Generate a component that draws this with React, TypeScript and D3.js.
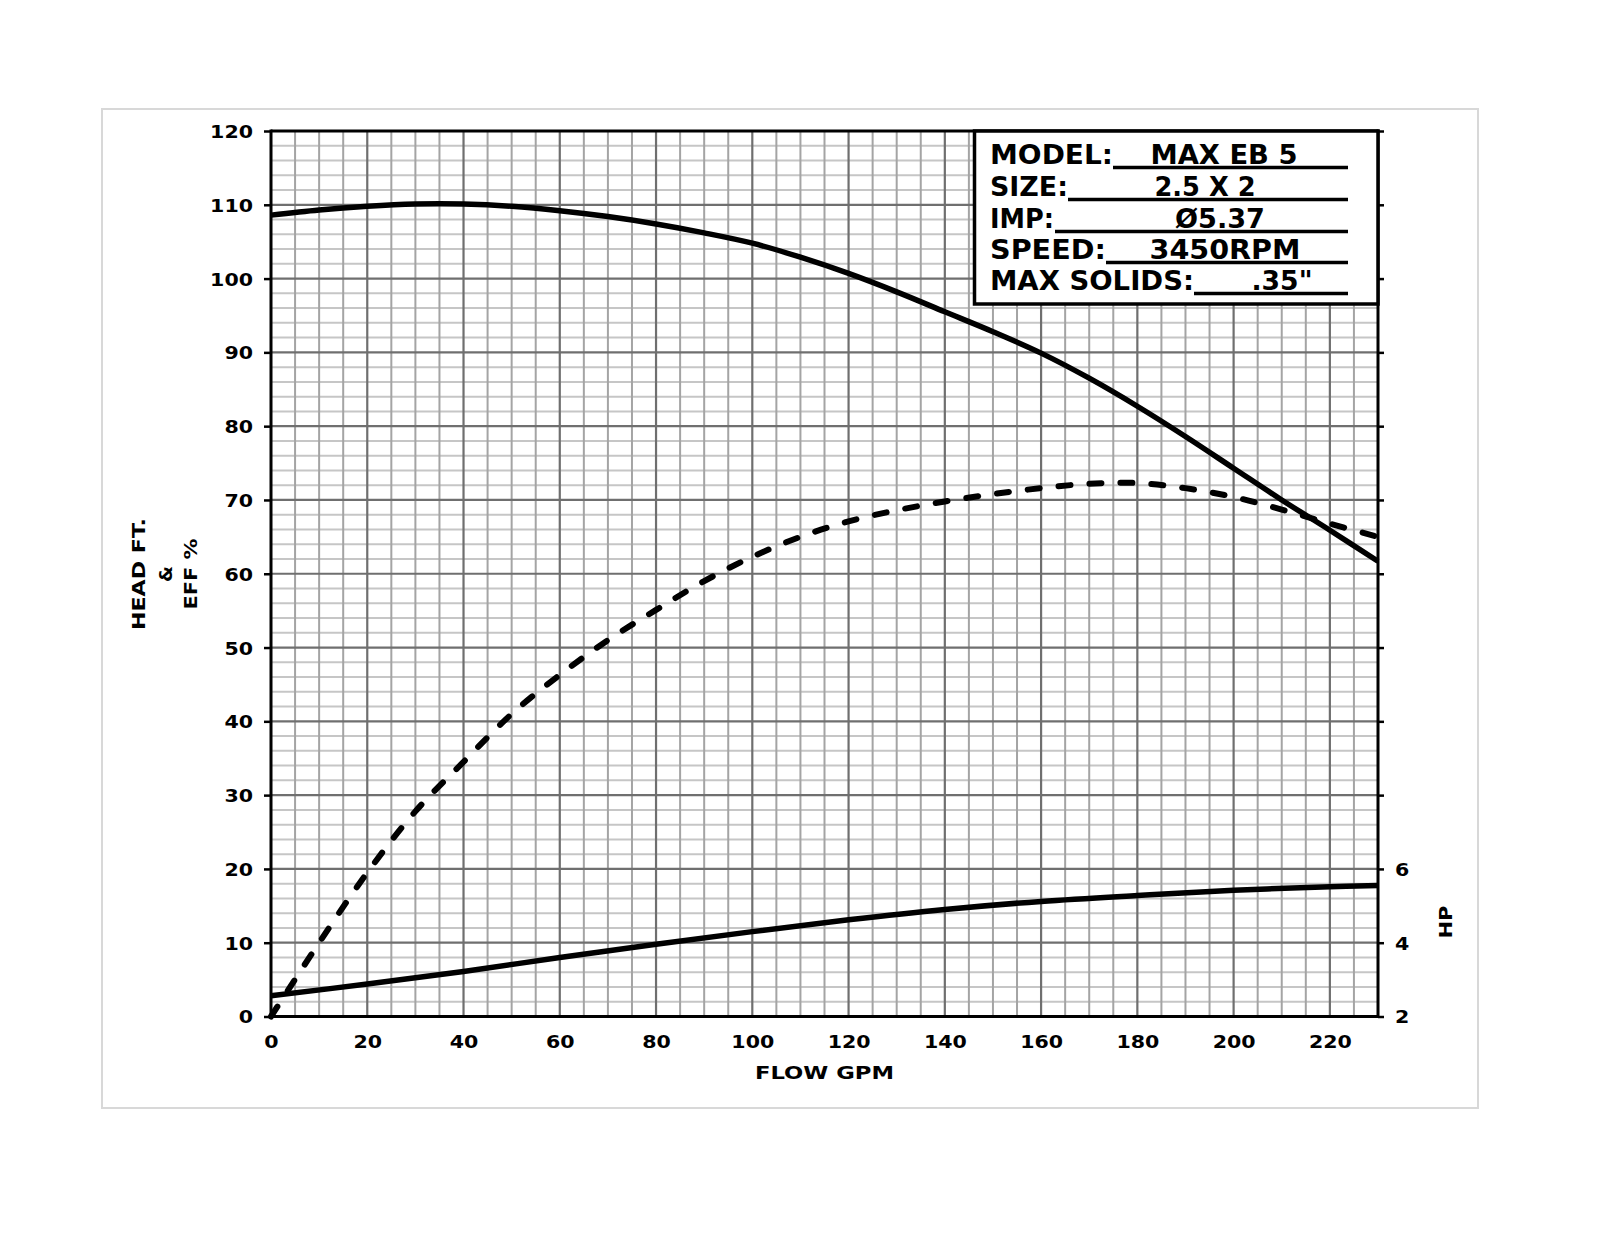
import { useEffect, useRef } from "react";
import * as d3 from "d3";

// flow points (GPM) shared by the head and efficiency curves
const flowGpm = [0, 10, 20, 30, 40, 50, 60, 70, 80, 90, 100, 110, 120, 130, 140, 150, 160, 170, 180, 190, 200, 210, 220, 230];
const headFt = [108.6, 109.3, 109.8, 110.1, 110.1, 109.8, 109.2, 108.4, 107.4, 106.2, 104.8, 102.9, 100.7, 98.2, 95.5, 92.8, 89.9, 86.5, 82.7, 78.6, 74.3, 70.0, 65.9, 61.7];
const effPct = [0, 10, 19.5, 27.8, 34.5, 41, 46.3, 51, 55.1, 59, 62.3, 65, 67.1, 68.6, 69.8, 70.8, 71.6, 72.2, 72.3, 71.6, 70.4, 68.7, 66.8, 65];

// horsepower curve, read against the right axis
const hpFlow = [0, 20, 40, 60, 80, 100, 120, 140, 160, 180, 200, 220, 230];
const hpValues = [2.56, 2.88, 3.22, 3.6, 3.96, 4.3, 4.62, 4.9, 5.12, 5.28, 5.42, 5.52, 5.55];

const xTicks = [0, 20, 40, 60, 80, 100, 120, 140, 160, 180, 200, 220];
const yTicks = [0, 10, 20, 30, 40, 50, 60, 70, 80, 90, 100, 110, 120];
const hpTicks = [2, 4, 6, 8, 10, 12, 14, 16, 18, 20, 22, 24, 26];
const hpLabelled = [2, 4, 6];

const infoLabels = ["MODEL:", "SIZE:", "IMP:", "SPEED:", "MAX SOLIDS:"];
const infoValues = ["MAX EB 5", "2.5 X 2", "\u00D85.37", "3450RPM", ".35\""];

const FONT = "'DejaVu Sans', sans-serif";

const App = () => {
  const svgRef = useRef<SVGSVGElement | null>(null);

  useEffect(() => {
    const svg = d3.select(svgRef.current);
    svg.selectAll("*").remove();

    const left = 271;
    const right = 1378;
    const top = 131;
    const bottom = 1016.5;

    const x = d3.scaleLinear().domain([0, 230]).range([left, right]);
    const y = d3.scaleLinear().domain([0, 120]).range([bottom, top]);
    const yHp = d3.scaleLinear().domain([2, 26]).range([bottom, top]);

    // outer page frame
    svg
      .append("rect")
      .attr("x", 102)
      .attr("y", 109)
      .attr("width", 1376)
      .attr("height", 999)
      .attr("fill", "none")
      .attr("stroke", "#d8d8d8")
      .attr("stroke-width", 2);

    // ---- GRID ----
    const grid = svg.append("g");
    const minorH = d3.range(0, 121, 2).filter((v) => v % 10 !== 0);
    const minorV = d3.range(0, 231, 5).filter((v) => v % 20 !== 0);
    const majorH = d3.range(10, 120, 10);
    const majorV = d3.range(20, 230, 20);

    grid
      .selectAll(".minor-h")
      .data(minorH)
      .enter()
      .append("line")
      .attr("x1", left)
      .attr("x2", right)
      .attr("y1", (d) => y(d))
      .attr("y2", (d) => y(d))
      .attr("stroke", "#c6c6c6")
      .attr("stroke-width", 2);

    grid
      .selectAll(".minor-v")
      .data(minorV)
      .enter()
      .append("line")
      .attr("x1", (d) => x(d))
      .attr("x2", (d) => x(d))
      .attr("y1", top)
      .attr("y2", bottom)
      .attr("stroke", "#a4a4a4")
      .attr("stroke-width", 2);

    grid
      .selectAll(".major-h")
      .data(majorH)
      .enter()
      .append("line")
      .attr("x1", left)
      .attr("x2", right)
      .attr("y1", (d) => y(d))
      .attr("y2", (d) => y(d))
      .attr("stroke", "#6f6f6f")
      .attr("stroke-width", 2.2);

    grid
      .selectAll(".major-v")
      .data(majorV)
      .enter()
      .append("line")
      .attr("x1", (d) => x(d))
      .attr("x2", (d) => x(d))
      .attr("y1", top)
      .attr("y2", bottom)
      .attr("stroke", "#6f6f6f")
      .attr("stroke-width", 2.2);

    // ---- AXES ----
    const charW = 14.3;
    const styleAxis = (g: d3.Selection<SVGGElement, unknown, null, undefined>) => {
      g.select(".domain").remove();
      g.selectAll(".tick line").attr("stroke", "#000").attr("stroke-width", 2.5);
      g.selectAll<SVGTextElement, number>(".tick text")
        .attr("fill", "#000")
        .style("font-family", FONT)
        .style("font-weight", "bold")
        .style("font-size", "18px")
        .attr("textLength", function () {
          return (this.textContent || "").length * charW;
        })
        .attr("lengthAdjust", "spacingAndGlyphs");
    };

    svg
      .append("g")
      .attr("transform", `translate(${left},0)`)
      .call(d3.axisLeft(y).tickValues(yTicks).tickSize(7).tickPadding(11))
      .call(styleAxis)
      .selectAll(".tick text")
      .attr("dy", "0.36em");

    svg
      .append("g")
      .attr("transform", `translate(${right},0)`)
      .call(
        d3
          .axisRight(yHp)
          .tickValues(hpTicks)
          .tickSize(6)
          .tickPadding(11)
          .tickFormat((d) => (hpLabelled.includes(d as number) ? String(d) : ""))
      )
      .call(styleAxis)
      .selectAll(".tick text")
      .attr("dy", "0.36em");

    const xAxis = svg
      .append("g")
      .attr("transform", `translate(0,${bottom})`)
      .call(d3.axisBottom(x).tickValues(xTicks).tickSize(0).tickPadding(19))
      .call(styleAxis);
    xAxis.selectAll(".tick text").attr("dy", "0.71em");

    // axis frame lines
    const frame = svg.append("g").attr("stroke", "#000").attr("stroke-width", 3);
    frame.append("line").attr("x1", left).attr("x2", left).attr("y1", top - 1.5).attr("y2", bottom + 1.5);
    frame.append("line").attr("x1", right).attr("x2", right).attr("y1", top - 1.5).attr("y2", bottom + 1.5);
    frame.append("line").attr("x1", left).attr("x2", right).attr("y1", top).attr("y2", top);
    frame.append("line").attr("x1", left).attr("x2", right).attr("y1", bottom).attr("y2", bottom);

    // ---- CURVES ----
    const line = d3
      .line<[number, number]>()
      .x((d) => x(d[0]))
      .y((d) => y(d[1]))
      .curve(d3.curveCatmullRom.alpha(0.5));
    const hpLine = d3
      .line<[number, number]>()
      .x((d) => x(d[0]))
      .y((d) => yHp(d[1]))
      .curve(d3.curveCatmullRom.alpha(0.5));

    svg
      .append("path")
      .attr("d", line(flowGpm.map((f, i) => [f, headFt[i]] as [number, number])))
      .attr("fill", "none")
      .attr("stroke", "#000")
      .attr("stroke-width", 5.5);

    svg
      .append("path")
      .attr("d", line(flowGpm.map((f, i) => [f, effPct[i]] as [number, number])))
      .attr("fill", "none")
      .attr("stroke", "#000")
      .attr("stroke-width", 6)
      .attr("stroke-linecap", "round")
      .attr("stroke-dasharray", "12 19");

    svg
      .append("path")
      .attr("d", hpLine(hpFlow.map((f, i) => [f, hpValues[i]] as [number, number])))
      .attr("fill", "none")
      .attr("stroke", "#000")
      .attr("stroke-width", 5.5);

    // ---- INFO BOX ----
    const box = svg.append("g");
    box
      .append("rect")
      .attr("x", 974.5)
      .attr("y", top)
      .attr("width", right - 974.5)
      .attr("height", 304 - top)
      .attr("fill", "#fff")
      .attr("stroke", "#000")
      .attr("stroke-width", 3.5);

    const baselines = [164, 196, 228, 259, 290];
    const labelWidths = [123, 78, 64, 116, 204];
    const valueCenters = [1224, 1205, 1220, 1225, 1282];
    const valueWidths = [147, 101, 90, 151, 61];
    const ruleStart = [1113, 1068, 1055, 1106, 1194];

    infoLabels.forEach((lab, i) => {
      box
        .append("text")
        .attr("x", 990)
        .attr("y", baselines[i])
        .attr("textLength", labelWidths[i])
        .attr("lengthAdjust", "spacingAndGlyphs")
        .style("font-family", FONT)
        .style("font-weight", "bold")
        .style("font-size", "26px")
        .text(lab);
      box
        .append("text")
        .attr("x", valueCenters[i])
        .attr("y", baselines[i])
        .attr("text-anchor", "middle")
        .attr("textLength", valueWidths[i])
        .attr("lengthAdjust", "spacingAndGlyphs")
        .style("font-family", FONT)
        .style("font-weight", "bold")
        .style("font-size", "26px")
        .text(infoValues[i]);
      box
        .append("line")
        .attr("x1", ruleStart[i])
        .attr("x2", 1348)
        .attr("y1", baselines[i] + 3.5)
        .attr("y2", baselines[i] + 3.5)
        .attr("stroke", "#000")
        .attr("stroke-width", 3.5);
    });

    // ---- AXIS TITLES ----
    const titleStyle = (t: d3.Selection<SVGTextElement, unknown, null, undefined>) =>
      t
        .style("font-family", FONT)
        .style("font-weight", "bold")
        .style("font-size", "18px")
        .attr("text-anchor", "middle")
        .attr("lengthAdjust", "spacingAndGlyphs");

    svg
      .append("text")
      .attr("x", (left + right) / 2)
      .attr("y", 1079)
      .attr("textLength", 139)
      .call(titleStyle)
      .text("FLOW GPM");

    const yTitle = [
      { text: "HEAD FT.", x: 145, len: 112 },
      { text: "&", x: 172, len: 16 },
      { text: "EFF %", x: 196.5, len: 71 },
    ];
    yTitle.forEach((t) => {
      svg
        .append("text")
        .attr("transform", `translate(${t.x},574) rotate(-90)`)
        .attr("textLength", t.len)
        .call(titleStyle)
        .text(t.text);
    });

    svg
      .append("text")
      .attr("transform", `translate(1451.5,922) rotate(-90)`)
      .attr("textLength", 33)
      .call(titleStyle)
      .text("HP");
  }, []);

  return (
    <svg
      ref={svgRef}
      width={1600}
      height={1236}
      style={{ position: "absolute", left: 0, top: 0, background: "#fff" }}
    ></svg>
  );
};

export default App;
